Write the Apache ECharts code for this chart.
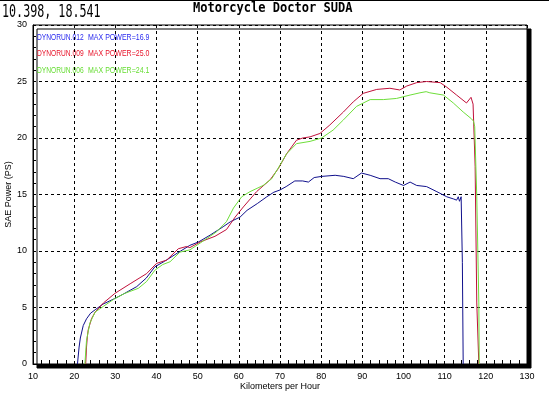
<!DOCTYPE html>
<html>
<head>
<meta charset="utf-8">
<script src="https://cdn.jsdelivr.net/npm/echarts@6/dist/echarts.min.js"></script>
<style>
  html, body { margin: 0; padding: 0; background: #fff; }
  #chart { width: 549px; height: 394px; }
</style>
</head>
<body>
<div id="chart"></div>
<script>
// [km/h, PS]
const run012 = [[20.8,0],[21.2,1.5],[21.5,2.3],[22.2,3.4],[23,4.0],[24,4.5],[25.1,4.8],[27,5.3],[29.9,5.8],[32,6.2],[35.2,6.85],[37.5,7.6],[39.6,8.6],[42,9.1],[45,9.8],[48.1,10.5],[50.2,10.8],[53,11.4],[56.2,12.15],[58,12.6],[60.3,13.0],[62,13.6],[64.5,14.2],[66.8,14.8],[68.5,15.2],[70,15.4],[71.5,15.7],[73.6,16.2],[75.5,16.2],[76.9,16.1],[78.3,16.5],[80.1,16.6],[83.4,16.7],[85.5,16.6],[87.8,16.4],[89.8,16.9],[91.9,16.7],[94.3,16.4],[96.3,16.4],[98,16.1],[100,15.8],[101.6,16.1],[103.2,15.8],[105.6,15.7],[108.1,15.25],[110.5,14.8],[112.2,14.6],[112.9,14.5],[113.3,14.8],[113.6,14.4],[114.0,14.8],[114.3,9.0],[114.5,0]]
const run009 = [[22.8,0],[23.0,1.5],[23.2,2.4],[23.4,3.0],[24.2,4.0],[25.1,4.6],[27.1,5.4],[29.9,6.25],[33.6,7.1],[37.6,8.0],[40,8.9],[42.5,9.2],[45.3,10.2],[47.3,10.4],[48.1,10.3],[50.6,10.8],[54.2,11.3],[57,11.9],[59.1,13.0],[61.1,13.9],[64.3,15.25],[67.6,16.3],[69.6,17.3],[71.6,18.6],[74,19.8],[75.5,20.0],[77.3,20.1],[79.7,20.4],[82.1,21.15],[85.4,22.3],[87.8,23.2],[90.2,23.95],[93.5,24.3],[96.7,24.4],[99.1,24.25],[100.8,24.6],[103.2,24.9],[105.6,25.0],[108.9,24.9],[110.5,24.5],[112.9,23.8],[115.3,23.1],[116.4,23.6],[116.9,23.0],[117.4,17.5],[117.8,5.4],[118.3,0]]
const run006 = [[22.6,0],[23.0,2.1],[23.8,3.6],[25.1,4.6],[27.1,5.1],[29.9,5.8],[32.3,6.25],[35.6,6.7],[37.6,7.3],[39.6,8.3],[41.5,8.8],[43.3,9.05],[45.7,9.9],[48.1,10.1],[50.6,10.7],[54.6,11.7],[57,12.6],[58.7,13.8],[60.7,14.8],[62.7,15.25],[65.9,15.8],[68,16.4],[70,17.6],[71.6,18.6],[74,19.5],[77.3,19.7],[80.1,20.0],[82.9,20.7],[85.4,21.6],[88.6,22.8],[91.9,23.4],[95.1,23.4],[98.3,23.5],[101.6,23.8],[104,24.0],[105.5,24.1],[106.4,24.0],[109.7,23.8],[112.1,23.1],[114.5,22.3],[116.5,21.7],[117.0,21.5],[117.3,21.0],[117.8,14.8],[118.3,5.4],[118.4,0]]

const runNames = ['DYNORUN.012', 'DYNORUN.009', 'DYNORUN.006']
const maxPower = ['16.9', '25.0', '24.1']
const lineColors = ['#10108c', '#c0103a', '#6ede3a']
const textColors = ['#2a2aee', '#e8142a', '#66dd33']

const chart = echarts.init(document.getElementById('chart'))

const axisFont = { fontFamily: 'Liberation Sans', fontSize: 9, color: '#000' }
const dashed = { show: true, lineStyle: { color: '#000', type: [3, 3], width: 1 } }

// legend lines, condensed like the original printout font
const notes = []
runNames.forEach((name, i) => {
  const y = 33 + i * 16.5
  notes.push({
    type: 'text', x: 37, y: y, scaleX: 0.74,
    style: { text: name, font: '9px "Liberation Sans"', fill: textColors[i] }
  })
  notes.push({
    type: 'text', x: 88, y: y, scaleX: 0.78,
    style: { text: 'MAX POWER=' + maxPower[i], font: '9px "Liberation Sans"', fill: textColors[i] }
  })
})

chart.setOption({
  animation: false,
  grid: {
    left: 33, right: 22, top: 25, bottom: 30,
    outerBoundsMode: 'none',
    containLabel: false,
    show: true,
    backgroundColor: '#fff',
    borderColor: '#000',
    borderWidth: 1,
    shadowColor: '#000',
    shadowBlur: 0,
    shadowOffsetX: 4,
    shadowOffsetY: 4
  },
  xAxis: {
    type: 'value',
    min: 10, max: 130, interval: 10,
    name: 'Kilometers per Hour',
    nameLocation: 'middle',
    nameGap: 18,
    nameMoveOverlap: false,
    nameTextStyle: Object.assign({ verticalAlign: 'top' }, axisFont),
    axisLine: { show: true, lineStyle: { color: '#000' } },
    axisTick: { show: false, inside: true },
    minorTick: { show: true, splitNumber: 5, length: 4, lineStyle: { color: '#000' } },
    axisLabel: Object.assign({ margin: 8 }, axisFont),
    splitLine: dashed
  },
  yAxis: {
    type: 'value',
    min: 0, max: 30, interval: 5,
    name: 'SAE Power (PS)',
    nameLocation: 'middle',
    nameGap: 20,
    nameMoveOverlap: false,
    nameRotate: 90,
    nameTextStyle: axisFont,
    axisLine: { show: true, lineStyle: { color: '#000' } },
    axisTick: { show: false, inside: true },
    minorTick: { show: true, splitNumber: 5, length: 3, lineStyle: { color: '#000' } },
    axisLabel: Object.assign({ margin: 6 }, axisFont),
    splitLine: dashed
  },
  graphic: [
    { type: 'line', shape: { x1: 0, y1: 0.5, x2: 549, y2: 0.5 }, style: { stroke: '#000', lineWidth: 1 } },
    {
      type: 'text', x: 2, y: 3, scaleX: 0.65,
      style: { text: '10.398, 18.541', font: '18px "DejaVu Sans Mono"', fill: '#000' }
    },
    {
      type: 'text', x: 193, y: 1, scaleX: 0.86,
      style: { text: 'Motorcycle Doctor SUDA', font: 'bold 14px "DejaVu Sans Mono"', fill: '#000' }
    }
  ].concat(notes),
  series: [run012, run009, run006].map((d, i) => ({
    name: runNames[i],
    type: 'line',
    data: d,
    showSymbol: false,
    silent: true,
    lineStyle: { width: 1, color: lineColors[i] }
  }))
})
</script>
</body>
</html>
